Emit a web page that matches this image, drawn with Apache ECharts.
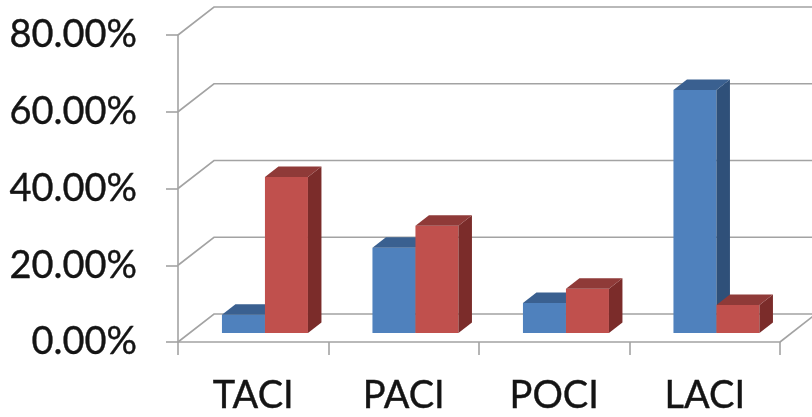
<!DOCTYPE html>
<html>
<head>
<meta charset="utf-8">
<script src="https://cdn.jsdelivr.net/npm/echarts@6/dist/echarts.min.js"></script>
<style>
  html, body { margin: 0; padding: 0; background: #ffffff; }
  #chart { width: 812px; height: 417px; }
</style>
</head>
<body>
<div id="chart"></div>
<script>
// Chart data
const categories = ['TACI', 'PACI', 'POCI', 'LACI'];
const seriesBlue = [4.7, 22.2, 7.8, 63.3];
const seriesRed = [40.6, 27.9, 11.5, 7.3];
const yTicks = [0, 20, 40, 60, 80];

// Oblique depth of the floor / back wall, in pixels
const WALL_DX = 36;
const WALL_DY = 28;
// Bars occupy this slice of the depth (fractions of the wall depth)
const BAR_FRONT = 0.325;
const BAR_BACK = 0.7;
// Width of a single bar relative to the category band
const BAR_FRAC = 2 / 7;

const GRID_COLOR = '#a3a3a3';
const TEXT_COLOR = '#141414';
const FONT = 'Lato, "Open Sans", sans-serif';

const BLUE = { front: '#4f81bd', top: '#3a6090', side: '#2f5079' };
const RED = { front: '#c0504d', top: '#8f3a38', side: '#7b2c2a' };

// Draws one 3D column: front face, right side face, top face
function barRenderer(slot, col) {
  return function (params, api) {
    const idx = api.value(0);
    const val = api.value(1);
    const base = api.coord([idx, 0]);
    const top = api.coord([idx, val]);
    const band = api.size([1, 0])[0];
    const w = band * BAR_FRAC;
    const fx = WALL_DX * BAR_FRONT, fy = WALL_DY * BAR_FRONT;
    const dx = WALL_DX * (BAR_BACK - BAR_FRONT);
    const dy = WALL_DY * (BAR_BACK - BAR_FRONT);
    const x0 = base[0] + fx + (slot === 0 ? -w : 0);
    const x1 = x0 + w;
    const yb = base[1] - fy;
    const yt = top[1] - fy;
    return {
      type: 'group',
      children: [
        { type: 'polygon', shape: { points: [[x0, yb], [x1, yb], [x1, yt], [x0, yt]] }, style: { fill: col.front } },
        { type: 'polygon', shape: { points: [[x1, yb], [x1 + dx, yb - dy], [x1 + dx, yt - dy], [x1, yt]] }, style: { fill: col.side } },
        { type: 'polygon', shape: { points: [[x0, yt], [x1, yt], [x1 + dx, yt - dy], [x0 + dx, yt - dy]] }, style: { fill: col.top } }
      ]
    };
  };
}

// Gridlines running along the side wall and across the back wall
function gridRenderer(params, api) {
  const v = api.value(1);
  const cs = params.coordSys;
  const y = api.coord([0, v])[1];
  const xl = cs.x;
  const xr = cs.x + cs.width;
  const lineStyle = { stroke: GRID_COLOR, lineWidth: 1.6, fill: null };
  const children = [
    { type: 'polyline', shape: { points: [[xl, y], [xl + WALL_DX, y - WALL_DY], [xr + WALL_DX, y - WALL_DY]] }, style: lineStyle }
  ];
  if (v === 0) {
    children.push({ type: 'polyline', shape: { points: [[xr, y], [xr + WALL_DX, y - WALL_DY]] }, style: lineStyle });
  }
  return { type: 'group', children: children };
}

const labelStyle = {
  color: TEXT_COLOR,
  fontFamily: FONT,
  fontSize: 38,
  textBorderColor: TEXT_COLOR,
  textBorderWidth: 0.4
};

const chart = echarts.init(document.getElementById('chart'), null, { renderer: 'canvas' });

chart.setOption({
  animation: false,
  backgroundColor: '#ffffff',
  grid: { left: 178, right: 32, top: 35, bottom: 75, containLabel: false },
  xAxis: {
    type: 'category',
    data: categories,
    boundaryGap: true,
    axisLine: { show: true, lineStyle: { color: GRID_COLOR, width: 1.6 } },
    axisTick: { show: true, length: 13, lineStyle: { color: GRID_COLOR, width: 1.6 } },
    axisLabel: Object.assign({ margin: 35 }, labelStyle),
    splitLine: { show: false }
  },
  yAxis: {
    type: 'value',
    min: 0,
    max: 80,
    interval: 20,
    axisLine: { show: true, lineStyle: { color: GRID_COLOR, width: 1.6 } },
    axisTick: { show: true, length: 12, lineStyle: { color: GRID_COLOR, width: 1.6 } },
    axisLabel: Object.assign({ margin: 41, formatter: v => v.toFixed(2) + '%' }, labelStyle),
    splitLine: { show: false }
  },
  series: [
    {
      type: 'custom', name: 'grid', z: 1, silent: true,
      renderItem: gridRenderer,
      data: yTicks.map(v => [0, v]),
      encode: { x: 0, y: 1 }
    },
    {
      type: 'custom', name: 'Series 1', z: 2,
      renderItem: barRenderer(0, BLUE),
      data: categories.map((c, i) => [i, seriesBlue[i]]),
      encode: { x: 0, y: 1 }
    },
    {
      type: 'custom', name: 'Series 2', z: 3,
      renderItem: barRenderer(1, RED),
      data: categories.map((c, i) => [i, seriesRed[i]]),
      encode: { x: 0, y: 1 }
    }
  ]
});
</script>
</body>
</html>
